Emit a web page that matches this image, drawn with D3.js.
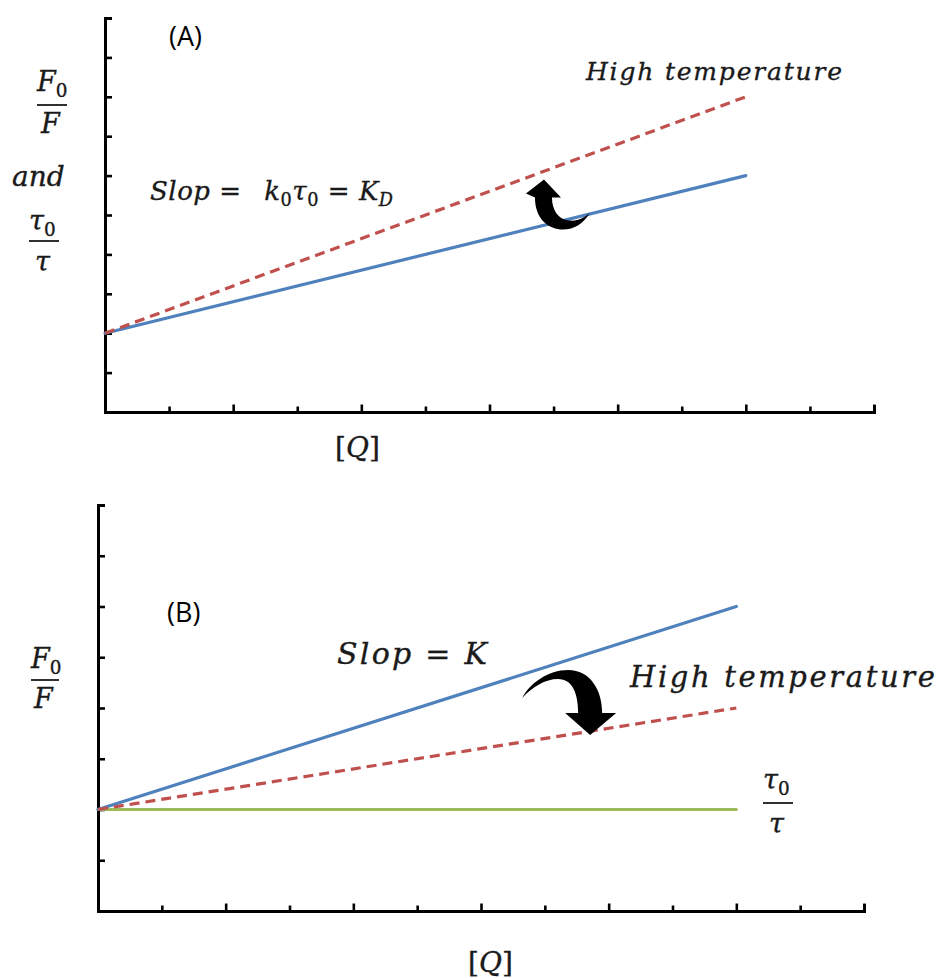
<!DOCTYPE html>
<html>
<head>
<meta charset="utf-8">
<script src="https://cdn.jsdelivr.net/npm/d3@7"></script>
<style>
  body { margin: 0; background: #fff; }
  .math { font-family: "DejaVu Serif", serif; font-style: italic; fill: #1a1a1a;
          stroke: #1a1a1a; stroke-width: 0.35px; }
  .up { font-style: normal; }
  .tag { font-family: "Open Sans", "Noto Sans", sans-serif; fill: #000; }
</style>
</head>
<body>
<svg id="fig" width="939" height="978"></svg>
<script>
// Stern–Volmer schematic: two panels, [Q] on the x axis
const qTicks = d3.range(0, 13);          // x ticks, majors on even values
const yTicksA = d3.range(0, 11);
const yTicksB = d3.range(0, 9);
const qEnds = [0, 10];                    // lines run from [Q]=0 to [Q]=10

// Panel A: dynamic quenching, slope rises with temperature
const blueA = [2, 6];
const redA = [2, 8];
// Panel B: static quenching, slope falls with temperature; tau0/tau flat
const blueB = [2, 6];
const redB = [2, 4];
const greenB = [2, 2];

// Curved arrow anchors (tip of the arrow head) in data units
const arrowA = [6.85, 5.9];
const arrowB = [7.71, 3.47];

const COL = { blue: "#4F81BD", red: "#C0504D", green: "#9BBB59" };

const svg = d3.select("#fig");

function panel(xRange, yRange, yMax, yTicks) {
  const x = d3.scaleLinear().domain([0, 12]).range(xRange);
  const y = d3.scaleLinear().domain([0, yMax]).range(yRange);
  const g = svg.append("g");

  const xa = d3.axisBottom(x).tickValues(qTicks).tickFormat("")
    .tickSizeInner(-7).tickSizeOuter(-7);
  const gx = g.append("g").attr("transform", `translate(0,${yRange[0]})`).call(xa);
  gx.selectAll(".tick line").attr("y2", d => (d % 2 === 0 ? -7.5 : -5.5));

  const ya = d3.axisLeft(y).tickValues(yTicks).tickFormat("")
    .tickSizeInner(-7).tickSizeOuter(-7);
  g.append("g").attr("transform", `translate(${xRange[0]},0)`).call(ya);

  g.selectAll(".domain").attr("stroke", "#000").attr("stroke-width", 3)
    .attr("stroke-linejoin", "miter");
  g.selectAll(".tick line").attr("stroke", "#000").attr("stroke-width", 2.6);

  return { g, x, y };
}

function series(p, vals, color, dashed) {
  const line = d3.line().x(d => p.x(d[0])).y(d => p.y(d[1]));
  p.g.append("path")
    .datum(qEnds.map((q, i) => [q, vals[i]]))
    .attr("d", line)
    .attr("fill", "none")
    .attr("stroke", color)
    .attr("stroke-width", 3.2)
    .attr("stroke-linecap", dashed ? "butt" : "round")
    .attr("stroke-dasharray", dashed ? "10,6" : null);
}

function mathText(g, x, y, size, parts, opts = {}) {
  const t = g.append("text").attr("class", "math").attr("x", x).attr("y", y)
    .attr("font-size", size);
  parts.forEach(pt => {
    const s = t.append("tspan").text(pt.t);
    if (pt.up) s.attr("class", "up");
    if (pt.sub) s.attr("font-size", size * 0.68).attr("dy", size * 0.22);
    if (pt.unsub) s.attr("dy", -size * 0.22);
    if (pt.dx) s.attr("dx", pt.dx);
  });
  if (opts.len) t.attr("textLength", opts.len).attr("lengthAdjust", "spacing");
  return t;
}

function fraction(g, x0, x1, yLine, num, den, size) {
  mathText(g, num.x, num.y, size, num.parts);
  g.append("line").attr("x1", x0).attr("x2", x1).attr("y1", yLine).attr("y2", yLine)
    .attr("stroke", "#1a1a1a").attr("stroke-width", 1.8);
  mathText(g, den.x, den.y, size, den.parts);
}

// ---------- Panel A ----------
const A = panel([105, 874], [412, 18], 10, yTicksA);
series(A, blueA, COL.blue, false);
series(A, redA, COL.red, true);

A.g.append("text").attr("class", "tag").attr("x", 169).attr("y", 46)
  .attr("font-size", 27).text("(A)");

mathText(A.g, 586, 80, 25, [{ t: "High temperature" }], { len: 256 });

mathText(A.g, 150, 200, 26, [
  { t: "Slop = " },
  { t: "k", dx: 14 }, { t: "0", up: true, sub: true }, { t: "τ", unsub: true },
  { t: "0", up: true, sub: true }, { t: " = K", unsub: true }, { t: "D", sub: true }
], { len: 243 });

fraction(A.g, 37, 67, 105,
  { x: 37, y: 91, parts: [{ t: "F" }, { t: "0", up: true, sub: true }] },
  { x: 41, y: 133, parts: [{ t: "F" }] }, 27);
mathText(A.g, 12, 186, 28, [{ t: "and" }]);
fraction(A.g, 29, 59, 241,
  { x: 29, y: 230, parts: [{ t: "τ" }, { t: "0", up: true, sub: true }] },
  { x: 35, y: 271, parts: [{ t: "τ" }] }, 27);

mathText(A.g, 335, 457, 28, [{ t: "[", up: true }, { t: "Q" }, { t: "]", up: true }]);

A.g.append("path")
  .attr("transform", `translate(${A.x(arrowA[0])},${A.y(arrowA[1])})`)
  .attr("d", "M0,0 L17,18 L8,18 C8,30 14,40 25,41 C34,42 41,38 46,33 C40,44 30,50 19,50 C5,50 -9,40 -9,18 L-18,14 Z")
  .attr("fill", "#000");

// ---------- Panel B ----------
const B = panel([98, 864], [911, 505], 8, yTicksB);
series(B, greenB, COL.green, false);
series(B, blueB, COL.blue, false);
series(B, redB, COL.red, true);

B.g.append("text").attr("class", "tag").attr("x", 167).attr("y", 622)
  .attr("font-size", 27).text("(B)");

mathText(B.g, 337, 664, 30, [{ t: "Slop = K" }], { len: 150 });
mathText(B.g, 630, 687, 29, [{ t: "High temperature" }], { len: 305 });

fraction(B.g, 31, 59, 680,
  { x: 31, y: 668, parts: [{ t: "F" }, { t: "0", up: true, sub: true }] },
  { x: 34, y: 708, parts: [{ t: "F" }] }, 27);

fraction(B.g, 763, 793, 803,
  { x: 763, y: 789, parts: [{ t: "τ" }, { t: "0", up: true, sub: true }] },
  { x: 769, y: 833, parts: [{ t: "τ" }] }, 27);

mathText(B.g, 468, 972, 28, [{ t: "[", up: true }, { t: "Q" }, { t: "]", up: true }]);

B.g.append("path")
  .attr("transform", `translate(${B.x(arrowB[0])},${B.y(arrowB[1])})`)
  .attr("d", "M0,0 L26,-22 L12,-22 C12,-45 0,-65 -22,-65 C-42,-65 -60,-52 -68,-37 C-58,-48 -45,-56 -32,-56 C-18,-56 -12,-42 -12,-22 L-25,-22 Z")
  .attr("fill", "#000");
</script>
</body>
</html>
